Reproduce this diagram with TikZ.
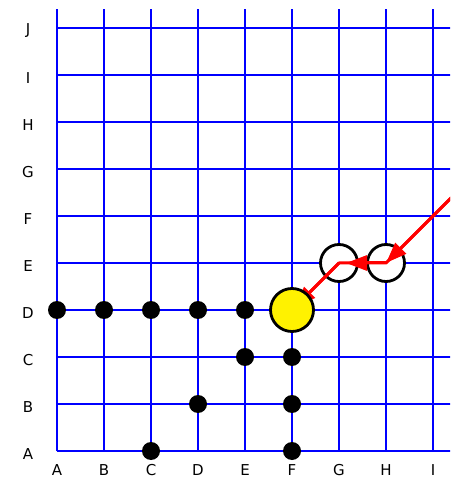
\documentclass[tikz,border=0pt]{standalone}
\usepackage{fontspec}
\setmainfont{DejaVu Sans}
\usetikzlibrary{arrows.meta}

\begin{document}
\begin{tikzpicture}[
  x=47pt,y=47pt,
  every node/.style={font=\fontsize{15}{17}\selectfont},
  gridline/.style={draw=blue,line width=2pt},
  stone/.style={circle,fill=black,inner sep=0pt,minimum size=18pt},
  ghost/.style={circle,draw=black,fill=white,line width=2.8pt,inner sep=0pt,minimum size=37pt},
  last/.style={circle,draw=black,fill=yellow,line width=2.8pt,inner sep=0pt,minimum size=43pt},
  move/.style={draw=red,line width=3pt,line join=round},
  movetip/.style={-{Triangle[length=21pt,width=15pt]},red,line width=3pt}
]
\useasboundingbox (-1.2128,-0.5957) rectangle (8.3617,9.5957);
\clip (-1.2128,-0.5957) rectangle (8.3617,9.5957);
% board
\foreach \i in {0,...,8} \draw[gridline] (\i,0) -- (\i,9.404);
\foreach \j in {0,...,9} \draw[gridline] (0,\j) -- (8.4,\j);
\foreach \l [count=\i from 0] in {A,...,I} \node (col\l) at (\i,-0.404) {\l};
\foreach \l [count=\j from 0] in {A,...,J} \node (row\l) at (-0.617,\j-0.06) {\l};
% stones
\foreach \c/\x in {A/0,B/1,C/2,D/3,E/4} \node[stone] (\c D) at (\x,3) {};
\node[stone] (EC) at (4,2) {};
\node[stone] (FC) at (5,2) {};
\node[stone] (DB) at (3,1) {};
\node[stone] (FB) at (5,1) {};
\node[stone] (CA) at (2,0) {};
\node[stone] (FA) at (5,0) {};
\node[ghost] (GE) at (6,4) {};
\node[ghost] (HE) at (7,4) {};
% moves
\coordinate (entry) at (9,6);
\coordinate (lastmove) at (5,3);
\draw[move] (entry) -- (HE.center) -- (GE.center) -- (lastmove);
\draw[movetip] (entry) -- (HE.center);
\draw[movetip,shorten >=7pt] (HE.center) -- (GE.center);
\draw[movetip,shorten >=4pt] (GE.center) -- (lastmove);
\node[last] (FD) at (lastmove) {};
\end{tikzpicture}
\end{document}
